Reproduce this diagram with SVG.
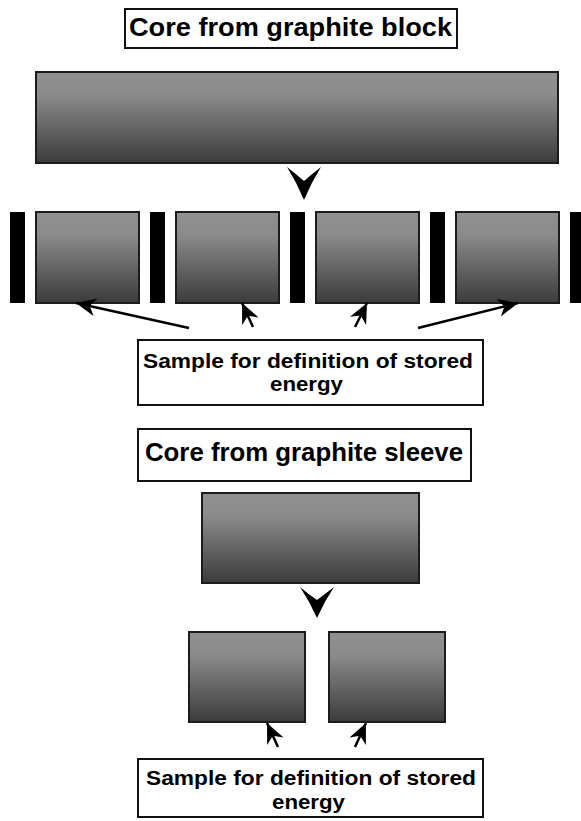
<svg xmlns="http://www.w3.org/2000/svg" width="581" height="821" viewBox="0 0 581 821">
  <defs>
    <linearGradient id="core" x1="0" y1="0" x2="0" y2="1">
      <stop offset="0" stop-color="#909090"/>
      <stop offset="0.25" stop-color="#8b8b8b"/>
      <stop offset="1" stop-color="#3b3b3b"/>
    </linearGradient>
    <marker id="head" viewBox="-21 -10 23 20" refX="0" refY="0" markerWidth="23" markerHeight="20" markerUnits="userSpaceOnUse" orient="auto">
      <path d="M0,0 L-20,-9 L-14,0 L-20,9 Z" fill="#000"/>
    </marker>
    <style>
      .core { fill: url(#core); stroke: #1c1c1c; stroke-width: 2; }
      .bar { fill: #000; }
      .label { fill: #fff; stroke: #111; stroke-width: 2; }
      .t { font-family: "Liberation Sans", Arial, sans-serif; font-weight: bold; fill: #000; }
      .link { stroke: #000; stroke-width: 2.5; fill: none; marker-end: url(#head); }
      .drop { fill: #000; }
    </style>
  </defs>

  <!-- upper sequence: graphite block -->
  <g id="title-block">
    <rect class="label" x="125" y="9" width="332" height="39"/>
    <text class="t" x="129" y="36" font-size="25" textLength="323" lengthAdjust="spacingAndGlyphs">Core from graphite block</text>
  </g>

  <g id="block-core">
    <rect class="core" x="36" y="72" width="522" height="91"/>
  </g>

  <g id="block-cut">
    <rect class="bar" x="10" y="212" width="15" height="91"/>
    <rect class="bar" x="150" y="212" width="15" height="91"/>
    <rect class="bar" x="290" y="212" width="15" height="91"/>
    <rect class="bar" x="430" y="212" width="15" height="91"/>
    <rect class="bar" x="570" y="212" width="15" height="91"/>
  </g>
  <g id="block-piece-1"><rect class="core" x="36" y="212" width="103" height="91"/></g>
  <g id="block-piece-2"><rect class="core" x="176" y="212" width="103" height="91"/></g>
  <g id="block-piece-3"><rect class="core" x="316" y="212" width="103" height="91"/></g>
  <g id="block-piece-4"><rect class="core" x="456" y="212" width="103" height="91"/></g>

  <g id="block-sample">
    <rect class="label" x="138" y="340" width="345" height="65"/>
    <text class="t" x="143" y="368" font-size="20" textLength="330" lengthAdjust="spacingAndGlyphs">Sample for definition of stored</text>
    <text class="t" x="270" y="391" font-size="20" textLength="73" lengthAdjust="spacingAndGlyphs">energy</text>
  </g>

  <!-- lower sequence: graphite sleeve -->
  <g id="title-sleeve">
    <rect class="label" x="138" y="429" width="333" height="52"/>
    <text class="t" x="145" y="461" font-size="26" textLength="318" lengthAdjust="spacingAndGlyphs">Core from graphite sleeve</text>
  </g>

  <g id="sleeve-core">
    <rect class="core" x="202" y="493" width="217" height="90"/>
  </g>
  <g id="sleeve-piece-1"><rect class="core" x="189" y="632" width="116" height="90"/></g>
  <g id="sleeve-piece-2"><rect class="core" x="329" y="632" width="116" height="90"/></g>

  <g id="sleeve-sample">
    <rect class="label" x="138" y="759" width="345" height="58"/>
    <text class="t" x="146" y="785" font-size="20" textLength="330" lengthAdjust="spacingAndGlyphs">Sample for definition of stored</text>
    <text class="t" x="272" y="809" font-size="20" textLength="73" lengthAdjust="spacingAndGlyphs">energy</text>
  </g>

  <!-- connectors -->
  <g id="connectors">
    <path class="drop" d="M287,167 Q296,174 304,181 Q312,174 321,167 Q311,183 304,200 Q297,183 287,167 Z"/>
    <path class="drop" d="M300,587 Q308,594 317,600 Q325,594 334,587 Q324,602 317,618 Q310,602 300,587 Z"/>
    <line class="link" x1="189" y1="328" x2="76" y2="303"/>
    <line class="link" x1="253" y1="327" x2="242" y2="303"/>
    <line class="link" x1="355" y1="327" x2="367" y2="303"/>
    <line class="link" x1="418" y1="328" x2="518" y2="303"/>
    <line class="link" x1="278" y1="747" x2="267" y2="723"/>
    <line class="link" x1="355" y1="747" x2="366" y2="723"/>
  </g>
</svg>
